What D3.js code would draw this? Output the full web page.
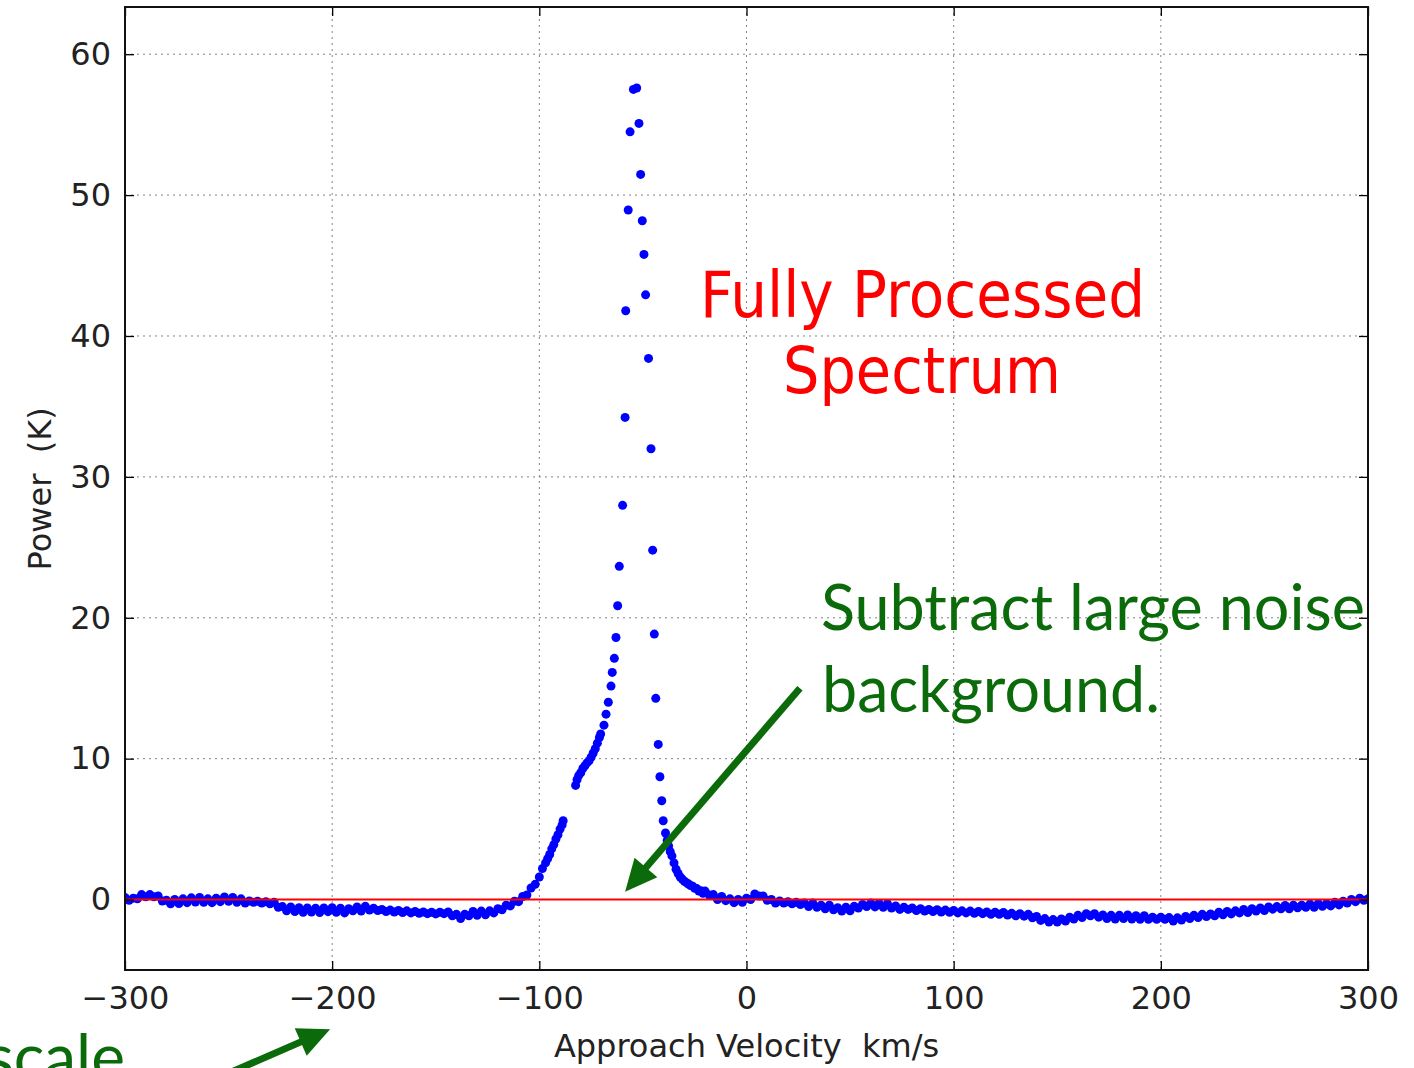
<!DOCTYPE html>
<html><head><meta charset="utf-8">
<script src="https://cdn.jsdelivr.net/npm/d3@7"></script>
<style>html,body{margin:0;padding:0;background:#fff;}svg{display:block;}</style>
</head><body>
<svg id="chart" width="1414" height="1068"></svg>
<script>
// ---------- data ----------
const xTicks = [-300, -200, -100, 0, 100, 200, 300];
const yTicks = [0, 10, 20, 30, 40, 50, 60];
const xLabel = "Approach Velocity  km/s";
const yLabel = "Power  (K)";
const titleLines = ["Fully Processed", "Spectrum"];
const noteLines = ["Subtract large noise", "background."];
const cutNote = "scale";

// [velocity km/s, power K]
const wingLeft = [
 [-300,0.15],[-298,-0.05],[-296,0.1],[-294,0.05],[-292,0.35],[-290,0.2],[-288,0.35],[-286,0.2],[-284,0.25],[-282,-0.1],
 [-280,-0.05],[-278,-0.3],[-276,0.0],[-274,-0.28],[-272,0.05],[-270,-0.22],[-268,0.12],[-266,-0.18],[-264,0.15],[-262,-0.2],
 [-260,0.05],[-258,-0.22],[-256,0.1],[-254,-0.15],[-252,0.18],[-250,-0.12],[-248,0.15],[-246,-0.2],[-244,0.05],[-242,-0.25],
 [-240,-0.1],[-238,-0.2],[-236,-0.12],[-234,-0.25],[-232,-0.15],[-230,-0.3],[-228,-0.2],[-226,-0.55],[-224,-0.5],[-222,-0.8],
 [-220,-0.52],[-218,-0.85],[-216,-0.58],[-214,-0.9],[-212,-0.6],[-210,-0.88],[-208,-0.62],[-206,-0.92],[-204,-0.6],[-202,-0.86],
 [-200,-0.58],[-198,-0.9],[-196,-0.62],[-194,-0.95],[-192,-0.65],[-190,-0.8],[-188,-0.52],[-186,-0.82],[-184,-0.48],[-182,-0.75],
 [-180,-0.62],[-178,-0.78],[-176,-0.7],[-174,-0.85],[-172,-0.75],[-170,-0.88],[-168,-0.78],[-166,-0.92],[-164,-0.8],[-162,-0.95],
 [-160,-0.85],[-158,-0.98],[-156,-0.88],[-154,-1.0],[-152,-0.9],[-150,-1.02],[-148,-0.9],[-146,-1.0],[-144,-0.88],[-142,-1.15],
 [-140,-1.05],[-138,-1.35],[-136,-1.05],[-134,-1.15],[-132,-0.85],[-130,-1.12],[-128,-0.82],[-126,-1.08],[-124,-0.8],[-122,-0.95],
 [-120,-0.65],[-118,-0.72],[-116,-0.4],[-114,-0.45],[-112,-0.12],[-110,-0.15],[-108,0.22],[-106,0.32],[-104,0.82],[-102,1.08],
 [-100,1.6],[-98.5,2.2],[-97,2.6],[-96,2.9],[-95,3.2],[-94,3.6],[-93,3.9],[-92,4.3],[-91,4.6],[-90,5.0],[-89,5.3],[-88.5,5.6]
];
const riseLeft = [
 [-82.5,8.1],[-81.8,8.5],[-81,8.8],[-80,9.0],[-79,9.3],[-78,9.5],[-77,9.7],[-76,9.85],[-75,10.1],[-74,10.4],
 [-73,10.7],[-72,11.1],[-71,11.5],[-70.4,11.75],[-68.8,12.38],[-67.8,13.16],[-66.7,14.0],[-65.4,15.15],[-64.8,16.12],[-63.8,17.12]
];
const peakPoints = [
 [-63.0,18.6],[-62.2,20.85],[-61.4,23.65],[-59.8,27.98],[-58.6,34.22],[-58.3,41.79],[-57.1,48.94],[-56.2,54.49],[-54.6,57.5],[-53.0,57.6],
 [-51.9,55.09],[-51.1,51.47],[-50.3,48.18],[-49.5,45.79],[-48.7,42.92],[-47.3,38.41],[-46.1,32.0],[-45.3,24.8],[-44.5,18.84],[-43.8,14.28],
 [-42.6,11.01],[-41.8,8.72],[-40.9,7.01],[-40.2,5.59]
];
const fallRight = [
 [-39.1,4.72],[-38.3,4.2],[-37.6,3.8],[-36.8,3.4],[-36,3.1],[-35,2.6],[-34,2.15],[-33,1.85],[-32,1.6],[-31,1.45],
 [-30,1.3],[-29,1.2],[-28,1.1],[-27,1.0],[-26,0.95],[-25,0.8],[-24,0.78],[-23,0.6],[-22,0.62],[-21,0.45],
 [-20,0.6],[-18,0.32],[-16,0.35],[-14,0.0],[-12,0.22],[-10,-0.08],[-8,0.05],[-6,-0.22],[-4,0.0],[-2,-0.2]
];
const wingRight = [
 [0,0.1],[2,0.0],[4,0.4],[6,0.25],[8,0.25],[10,-0.05],[12,0.0],[14,-0.25],[16,-0.1],[18,-0.25],
 [20,-0.15],[22,-0.3],[24,-0.2],[26,-0.35],[28,-0.25],[30,-0.5],[32,-0.25],[34,-0.55],[36,-0.4],[38,-0.65],
 [40,-0.4],[42,-0.72],[44,-0.58],[46,-0.82],[48,-0.55],[50,-0.8],[52,-0.48],[54,-0.6],[56,-0.35],[58,-0.5],
 [60,-0.25],[62,-0.52],[64,-0.28],[66,-0.55],[68,-0.3],[70,-0.6],[72,-0.45],[74,-0.7],[76,-0.55],[78,-0.7],
 [80,-0.6],[82,-0.78],[84,-0.65],[86,-0.82],[88,-0.7],[90,-0.85],[92,-0.72],[94,-0.88],[96,-0.75],[98,-0.9],
 [100,-0.78],[102,-0.95],[104,-0.8],[106,-0.95],[108,-0.82],[110,-0.98],[112,-0.85],[114,-1.0],[116,-0.88],[118,-1.05],
 [120,-0.9],[122,-1.05],[124,-0.92],[126,-1.1],[128,-0.98],[130,-1.15],[132,-1.0],[134,-1.18],[136,-1.05],[138,-1.3],
 [140,-1.2],[142,-1.48],[144,-1.35],[146,-1.6],[148,-1.42],[150,-1.6],[152,-1.38],[154,-1.52],[156,-1.25],[158,-1.38],
 [160,-1.12],[162,-1.28],[164,-1.0],[166,-1.15],[168,-1.0],[170,-1.25],[172,-1.1],[174,-1.35],[176,-1.12],[178,-1.38],
 [180,-1.12],[182,-1.35],[184,-1.1],[186,-1.38],[188,-1.15],[190,-1.4],[192,-1.15],[194,-1.4],[196,-1.25],[198,-1.4],
 [200,-1.25],[202,-1.4],[204,-1.28],[206,-1.52],[208,-1.3],[210,-1.45],[212,-1.2],[214,-1.35],[216,-1.12],[218,-1.28],
 [220,-1.05],[222,-1.2],[224,-1.02],[226,-1.15],[228,-0.9],[230,-1.08],[232,-0.85],[234,-1.02],[236,-0.8],[238,-0.95],
 [240,-0.7],[242,-0.92],[244,-0.65],[246,-0.82],[248,-0.6],[250,-0.78],[252,-0.52],[254,-0.68],[256,-0.5],[258,-0.65],
 [260,-0.42],[262,-0.65],[264,-0.4],[266,-0.58],[268,-0.4],[270,-0.55],[272,-0.32],[274,-0.55],[276,-0.3],[278,-0.48],
 [280,-0.3],[282,-0.45],[284,-0.2],[286,-0.38],[288,-0.12],[290,-0.25],[292,0.0],[294,-0.15],[296,0.1],[298,-0.05],[300,0.05]
];
// annotation arrows in data coordinates: [from, to(tip)]
const arrowMain = [[25.8, 15.0], [-58.6, 0.55]];
const arrowScale = [[-248, -12.2], [-201, -9.2]];

// ---------- chart ----------
const svg = d3.select("#chart");
const L = 125, R = 1368, T = 7, B = 970;
const x = d3.scaleLinear().domain([-300, 300]).range([L, R]);
const y = d3.scaleLinear().domain([-5, 63.35]).range([B, T]);

svg.append("rect").attr("width", 1414).attr("height", 1068).attr("fill", "#fff");

svg.append("defs").append("clipPath").attr("id", "clip")
  .append("rect").attr("x", L).attr("y", T).attr("width", R - L).attr("height", B - T);

// grid
const grid = svg.append("g").attr("stroke", "#333").attr("stroke-width", 1)
  .attr("stroke-dasharray", "2,4").attr("opacity", 0.6);
grid.selectAll(".gx").data(xTicks.slice(1, -1)).join("line")
  .attr("x1", d => x(d)).attr("x2", d => x(d)).attr("y1", T).attr("y2", B);
grid.selectAll(".gy").data(yTicks).join("line")
  .attr("y1", d => y(d)).attr("y2", d => y(d)).attr("x1", L).attr("x2", R);

// points
const allPts = [].concat(wingLeft, riseLeft, peakPoints, fallRight, wingRight);
svg.append("g").attr("clip-path", "url(#clip)")
  .selectAll("circle").data(allPts).join("circle")
  .attr("cx", d => x(d[0])).attr("cy", d => y(d[1])).attr("r", 4.5)
  .attr("fill", "#0000ff");

// red zero line
svg.append("line").attr("x1", L).attr("x2", R).attr("y1", y(0)).attr("y2", y(0))
  .attr("stroke", "#ff0000").attr("stroke-width", 2);

// axes
const fontAx = "'DejaVu Sans', sans-serif";
const xAxisB = d3.axisBottom(x).tickValues(xTicks).tickSizeInner(-9).tickSizeOuter(0).tickPadding(16);
const gxb = svg.append("g").attr("transform", `translate(0,${B})`).call(xAxisB);
const xAxisT = d3.axisTop(x).tickValues(xTicks).tickSizeInner(-9).tickSizeOuter(0).tickFormat("");
const gxt = svg.append("g").attr("transform", `translate(0,${T})`).call(xAxisT);
const yAxisL = d3.axisLeft(y).tickValues(yTicks).tickSizeInner(-9).tickSizeOuter(0).tickPadding(14);
const gyl = svg.append("g").attr("transform", `translate(${L},0)`).call(yAxisL);
const yAxisR = d3.axisRight(y).tickValues(yTicks).tickSizeInner(-9).tickSizeOuter(0).tickFormat("");
const gyr = svg.append("g").attr("transform", `translate(${R},0)`).call(yAxisR);
[gxb, gxt, gyl, gyr].forEach(g => {
  g.select(".domain").remove();
  g.selectAll(".tick line").attr("stroke", "#000").attr("stroke-width", 1.3);
  g.selectAll(".tick text").attr("font-family", fontAx).attr("font-size", 32).attr("fill", "#222");
});
gxb.selectAll(".tick text").attr("dy", "0.72em");

// frame
svg.append("rect").attr("x", L).attr("y", T).attr("width", R - L).attr("height", B - T)
  .attr("fill", "none").attr("stroke", "#111").attr("stroke-width", 2);

// axis labels
svg.append("text").attr("x", (L + R) / 2).attr("y", 1057).attr("text-anchor", "middle")
  .attr("font-family", fontAx).attr("font-size", 32).attr("fill", "#222")
  .style("white-space", "pre").text(xLabel);
svg.append("text").attr("transform", `translate(51,${(y(0) + y(60)) / 2 + 12}) rotate(-90)`)
  .attr("text-anchor", "middle").attr("font-family", fontAx).attr("font-size", 32).attr("fill", "#222")
  .style("white-space", "pre").text(yLabel);

// red title
const red = svg.append("g").attr("fill", "#ff0000").attr("font-family", "'DejaVu Sans', sans-serif").attr("font-size", 64);
red.append("text").attr("x", 700).attr("y", 317).attr("textLength", 445).attr("lengthAdjust", "spacingAndGlyphs").text(titleLines[0]);
red.append("text").attr("x", 783).attr("y", 393).attr("textLength", 278).attr("lengthAdjust", "spacingAndGlyphs").text(titleLines[1]);

// green notes
const green = "#0b6b0b";
const gtxt = svg.append("g").attr("fill", green).attr("font-family", "Lato, 'Open Sans', sans-serif").attr("font-size", 64);
gtxt.append("text").attr("x", 821).attr("y", 630).attr("textLength", 544).attr("lengthAdjust", "spacingAndGlyphs").text(noteLines[0]);
gtxt.append("text").attr("x", 822).attr("y", 712).attr("textLength", 338).attr("lengthAdjust", "spacingAndGlyphs").text(noteLines[1]);
gtxt.append("text").attr("x", 125).attr("y", 1080).attr("text-anchor", "end").text(cutNote);

// arrows
function arrow(a) {
  const x0 = x(a[0][0]), y0 = y(a[0][1]), x1 = x(a[1][0]), y1 = y(a[1][1]);
  const dx = x1 - x0, dy = y1 - y0, len = Math.hypot(dx, dy), ux = dx / len, uy = dy / len;
  const hl = 32, hw = 15;
  const bx = x1 - ux * hl, by = y1 - uy * hl;
  svg.append("line").attr("x1", x0).attr("y1", y0).attr("x2", bx + ux * 2).attr("y2", by + uy * 2)
    .attr("stroke", green).attr("stroke-width", 7);
  svg.append("path").attr("fill", green)
    .attr("d", `M${x1},${y1}L${bx - uy * hw},${by + ux * hw}L${bx + uy * hw},${by - ux * hw}Z`);
}
arrow(arrowMain);
arrow(arrowScale);
</script>
</body></html>
